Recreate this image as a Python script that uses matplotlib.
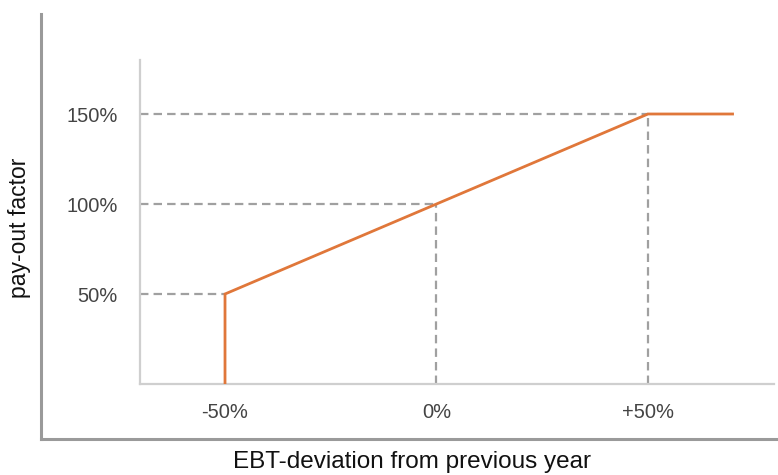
import matplotlib
matplotlib.use("Agg")
import matplotlib.pyplot as plt

plt.rcParams['font.family'] = ['Liberation Sans', 'DejaVu Sans']

# Data
line_x = [-50, -50, 50, 70]
line_y = [0, 50, 150, 150]
ref_x = [-50, 0, 50]
ref_y = [50, 100, 150]
xtick_vals = [-50, 0, 50]
xtick_labels = ["-50%", "0%", "+50%"]
ytick_vals = [50, 100, 150]
ytick_labels = ["50%", "100%", "150%"]
x_label = "EBT-deviation from previous year"
y_label = "pay-out factor"

W, H = 778, 475
fig = plt.figure(figsize=(W / 100, H / 100), dpi=100)

# Outer frame axes
ax0 = fig.add_axes([41 / W, (H - 439) / H, (W - 41) / W, (439 - 14) / H])
ax0.set_xticks([])
ax0.set_yticks([])
for s in ['top', 'right']:
    ax0.spines[s].set_visible(False)
for s in ['left', 'bottom']:
    ax0.spines[s].set_color('#9a9a9a')
    ax0.spines[s].set_linewidth(2.2)
ax0.patch.set_alpha(0)
ax0.set_xlabel(x_label, fontsize=17.5, color='#111111')
ax0.set_ylabel(y_label, fontsize=16.5, color='#111111')
ax0.xaxis.set_label_coords((412 - 41) / (W - 41), (439 - 462) / (439 - 14))
ax0.xaxis.label.set_va('center')
ax0.yaxis.set_label_coords((20 - 41) / (W - 41), (439 - 227.5) / (439 - 14))
ax0.yaxis.label.set_va('center')

# Inner axes
ax = fig.add_axes([140 / W, (H - 384) / H, (774 - 140) / W, (384 - 60) / H])
ax.set_xlim(-70.1, 79.8)
ax.set_ylim(0, 180)
for s in ['top', 'right']:
    ax.spines[s].set_visible(False)
for s in ['left', 'bottom']:
    ax.spines[s].set_color('#cfcfcf')
    ax.spines[s].set_linewidth(1.6)
ax.patch.set_alpha(0)

xmin = ax.get_xlim()[0]
dash_kw = dict(color='#a0a0a0', linewidth=1.6, linestyle=(0, (3.8, 2.3)), zorder=2)
for rx, ry in zip(ref_x, ref_y):
    ax.plot([xmin, rx], [ry, ry], **dash_kw)
    if rx != ref_x[0]:
        ax.plot([rx, rx], [0, ry], **dash_kw)

ax.plot(line_x, line_y, color='#e0773a', linewidth=2.0, zorder=3,
        solid_joinstyle='miter')

ax.set_xticks(xtick_vals)
ax.set_xticklabels(xtick_labels)
ax.set_yticks(ytick_vals)
ax.set_yticklabels(ytick_labels)
ax.tick_params(axis='both', length=0, labelsize=14.5, labelcolor='#444444')
ax.tick_params(axis='x', pad=14)
ax.tick_params(axis='y', pad=16)

fig.savefig("out.png", dpi=100)
